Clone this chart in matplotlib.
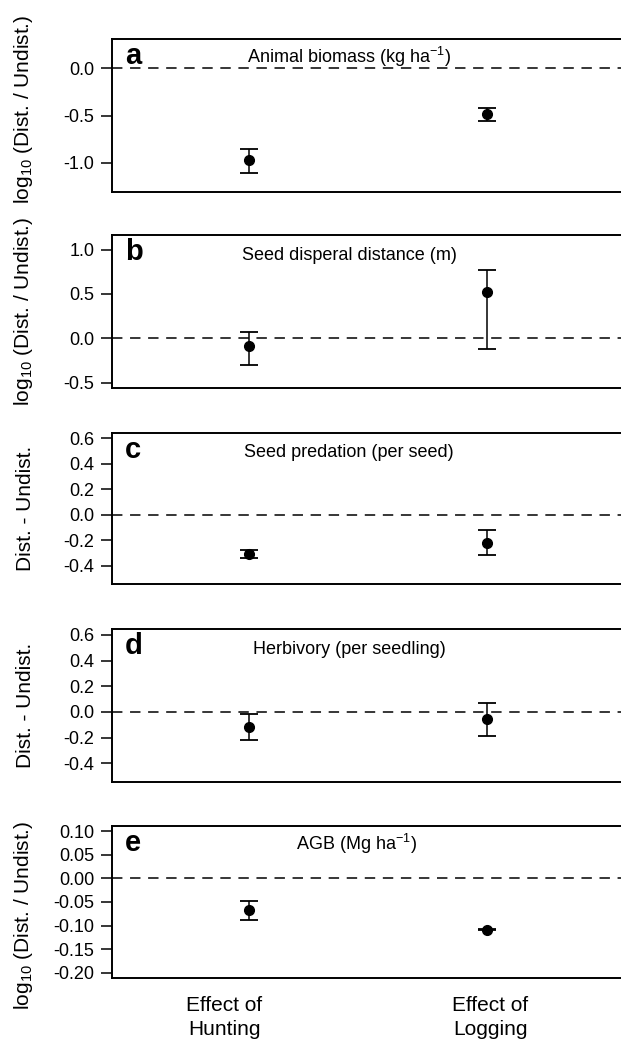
import numpy as np
import matplotlib
matplotlib.use('Agg')
import matplotlib.pyplot as plt
import matplotlib.transforms as mtransforms

plt.rcParams['font.family'] = ['Liberation Sans', 'DejaVu Sans']
plt.rcParams['mathtext.fontset'] = 'custom'
plt.rcParams['mathtext.rm'] = 'Liberation Sans'
plt.rcParams['mathtext.it'] = 'Liberation Sans:italic'
plt.rcParams['axes.unicode_minus'] = False
plt.rcParams['lines.scale_dashes'] = False

# данные по панелям a-e (среднее и границы доверительного интервала)
panel_letters = ['a', 'b', 'c', 'd', 'e']
panel_titles = ['Animal biomass (kg ha$^{-1}$)', 'Seed disperal distance (m)',
                'Seed predation (per seed)', 'Herbivory (per seedling)',
                'AGB (Mg ha$^{-1}$)']
log_label = 'log$_{10}$ (Dist. / Undist.)'
diff_label = 'Dist. - Undist.'
y_labels = [log_label, log_label, diff_label, diff_label, log_label]
x_labels = ['Effect of\nHunting', 'Effect of\nLogging']

hunting_mean = [-0.975, -0.083, -0.309, -0.121, -0.066]
hunting_lo = [-1.113, -0.298, -0.340, -0.220, -0.089]
hunting_hi = [-0.858, 0.068, -0.273, -0.018, -0.048]

logging_mean = [-0.483, 0.524, -0.219, -0.059, -0.1085]
logging_lo = [-0.561, -0.121, -0.314, -0.184, -0.110]
logging_hi = [-0.422, 0.773, -0.121, 0.070, -0.107]

y_limits = [(-1.25, 0.25), (-0.5, 1.1), (-0.5, 0.6), (-0.5, 0.6), (-0.2, 0.1)]
y_ticks = [[-1.0, -0.5, 0.0],
           [-0.5, 0.0, 0.5, 1.0],
           [-0.4, -0.2, 0.0, 0.2, 0.4, 0.6],
           [-0.4, -0.2, 0.0, 0.2, 0.4, 0.6],
           [-0.20, -0.15, -0.10, -0.05, 0.00, 0.05, 0.10]]
tick_fmt = ['%.1f', '%.1f', '%.1f', '%.1f', '%.2f']

W, H = 621, 1040
fig = plt.figure(figsize=(W / 100, H / 100), dpi=100)

# положение панелей в пикселях (верх, низ)
tops = [39, 235, 432.7, 629.3, 825.7]
bottoms = [192, 388.3, 584.3, 781.7, 978.3]
left_px, right_px = 111.7, 624.8
label_y = [0.54, 0.5, 0.5, 0.5, 0.41]

for i in range(5):
    ax = fig.add_axes([left_px / W, 1 - bottoms[i] / H,
                       (right_px - left_px) / W, (bottoms[i] - tops[i]) / H])
    lo, hi = y_limits[i]
    pad = (hi - lo) * 0.04
    ax.set_ylim(lo - pad, hi + pad)
    ax.set_xlim(0.42, 2.58)

    ax.axhline(0, color='black', lw=1.1, linestyle=(0, (7.5, 5.5)), zorder=1)

    x = np.array([1, 2])
    means = np.array([hunting_mean[i], logging_mean[i]])
    los = np.array([hunting_lo[i], logging_lo[i]])
    his = np.array([hunting_hi[i], logging_hi[i]])
    ax.errorbar(x, means, yerr=[means - los, his - means], fmt='o',
                color='black', ms=7, elinewidth=1.1, capsize=6.5,
                capthick=1.3, zorder=3)

    ax.set_yticks(y_ticks[i])
    ax.set_yticklabels([tick_fmt[i] % v for v in y_ticks[i]])
    ax.tick_params(axis='y', direction='out', length=8, width=1.1,
                   labelsize=13, pad=4.5)
    ax.set_xticks([])
    for s in ax.spines.values():
        s.set_linewidth(1.4)

    ax.text(0.026, 0.835, panel_letters[i], transform=ax.transAxes,
            fontsize=21, fontweight='bold', va='baseline', ha='left')
    ax.text(0.4625 if i < 4 else 0.477, 0.84, panel_titles[i],
            transform=ax.transAxes, fontsize=13, ha='center', va='baseline')

    ax.set_ylabel(y_labels[i], fontsize=15)
    ax.yaxis.set_label_coords(-0.150, label_y[i])

    if i == 4:
        trans = mtransforms.blended_transform_factory(ax.transData, ax.transAxes)
        for xp, lab in zip([0.895, 2.013], x_labels):
            ax.text(xp, -0.118, lab, transform=trans, fontsize=15,
                    ha='center', va='top', linespacing=1.3)

plt.savefig('out.png', dpi=100)
